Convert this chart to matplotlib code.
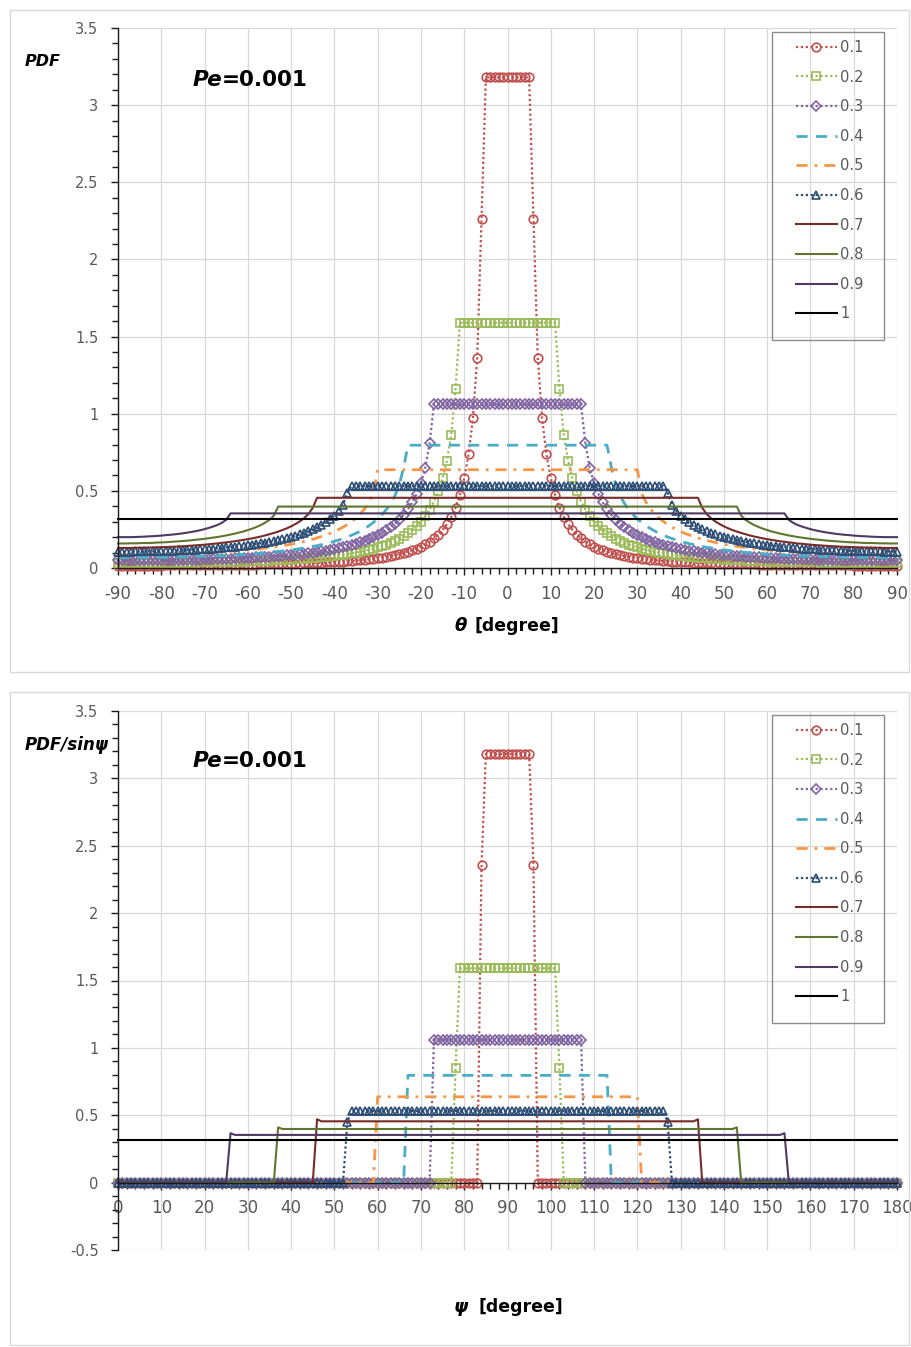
import numpy as np
import matplotlib
matplotlib.use("Agg")
import matplotlib.pyplot as plt
from matplotlib.ticker import MultipleLocator, FuncFormatter
from matplotlib.patches import Rectangle

# ---------------------------------------------------------------- data
series_labels = ["0.1", "0.2", "0.3", "0.4", "0.5", "0.6", "0.7", "0.8", "0.9", "1"]

# angle grids [degree]
theta_half = np.arange(0, 91)          # 0 .. 90, the PDF(theta) curves are symmetric
psi = np.arange(0, 181)                # 0 .. 180

# PDF(theta) for theta = 0 .. 90
pdf_01 = [3.18] * 6 + [
    2.26, 1.36, 0.969, 0.736, 0.581, 0.472, 0.392, 0.332, 0.285, 0.247,
    0.217, 0.192, 0.171, 0.154, 0.139, 0.126, 0.116, 0.106, 0.098, 0.090,
    0.084, 0.078, 0.073, 0.068, 0.064, 0.060, 0.057, 0.054, 0.051, 0.049,
    0.046, 0.044, 0.042, 0.040, 0.039, 0.037, 0.036, 0.034, 0.033, 0.032,
    0.031, 0.030, 0.029, 0.028, 0.027, 0.026, 0.026, 0.025, 0.024, 0.024,
    0.023, 0.023, 0.022, 0.022, 0.021, 0.021, 0.020, 0.020, 0.020, 0.019,
    0.019, 0.019, 0.019, 0.018, 0.018, 0.018, 0.018, 0.017, 0.017, 0.017,
    0.017, 0.017, 0.017, 0.017, 0.016, 0.016, 0.016, 0.016, 0.016, 0.016,
    0.016, 0.016, 0.016, 0.016, 0.016]
pdf_02 = [1.59] * 12 + [
    1.16, 0.862, 0.696, 0.581, 0.497, 0.430, 0.378, 0.336, 0.300, 0.271,
    0.246, 0.224, 0.206, 0.190, 0.175, 0.163, 0.152, 0.142, 0.133, 0.125,
    0.118, 0.111, 0.105, 0.100, 0.095, 0.091, 0.086, 0.083, 0.079, 0.076,
    0.073, 0.070, 0.067, 0.065, 0.063, 0.061, 0.059, 0.057, 0.055, 0.054,
    0.052, 0.051, 0.049, 0.048, 0.047, 0.046, 0.045, 0.044, 0.043, 0.042,
    0.041, 0.041, 0.040, 0.039, 0.039, 0.038, 0.038, 0.037, 0.037, 0.036,
    0.036, 0.035, 0.035, 0.035, 0.034, 0.034, 0.034, 0.033, 0.033, 0.033,
    0.033, 0.033, 0.033, 0.032, 0.032, 0.032, 0.032, 0.032, 0.032]
pdf_03 = [1.06] * 18 + [
    0.807, 0.649, 0.551, 0.480, 0.426, 0.381, 0.345, 0.314, 0.287, 0.265,
    0.245, 0.228, 0.212, 0.199, 0.186, 0.176, 0.166, 0.157, 0.149, 0.141,
    0.134, 0.128, 0.123, 0.117, 0.113, 0.108, 0.104, 0.100, 0.097, 0.093,
    0.090, 0.087, 0.085, 0.082, 0.080, 0.078, 0.076, 0.074, 0.072, 0.070,
    0.069, 0.067, 0.066, 0.064, 0.063, 0.062, 0.061, 0.060, 0.059, 0.058,
    0.057, 0.056, 0.056, 0.055, 0.054, 0.054, 0.053, 0.053, 0.052, 0.052,
    0.051, 0.051, 0.050, 0.050, 0.050, 0.050, 0.049, 0.049, 0.049, 0.049,
    0.049, 0.049, 0.049]
pdf_04 = [0.796] * 24 + [
    0.652, 0.539, 0.470, 0.419, 0.379, 0.346, 0.318, 0.295, 0.274, 0.256,
    0.240, 0.225, 0.213, 0.201, 0.191, 0.181, 0.173, 0.165, 0.158, 0.151,
    0.145, 0.140, 0.134, 0.130, 0.125, 0.121, 0.117, 0.114, 0.110, 0.107,
    0.104, 0.101, 0.099, 0.096, 0.094, 0.092, 0.090, 0.088, 0.086, 0.085,
    0.083, 0.082, 0.080, 0.079, 0.078, 0.077, 0.076, 0.075, 0.074, 0.073,
    0.072, 0.071, 0.071, 0.070, 0.070, 0.069, 0.069, 0.068, 0.068, 0.068,
    0.067, 0.067, 0.067, 0.067, 0.067, 0.067, 0.066]
pdf_05 = [0.637] * 31 + [
    0.484, 0.426, 0.384, 0.352, 0.325, 0.302, 0.282, 0.265, 0.250, 0.237,
    0.224, 0.214, 0.204, 0.195, 0.186, 0.179, 0.172, 0.166, 0.160, 0.154,
    0.149, 0.145, 0.140, 0.136, 0.132, 0.129, 0.126, 0.122, 0.120, 0.117,
    0.114, 0.112, 0.110, 0.108, 0.106, 0.104, 0.102, 0.100, 0.099, 0.098,
    0.096, 0.095, 0.094, 0.093, 0.092, 0.091, 0.090, 0.090, 0.089, 0.088,
    0.088, 0.087, 0.087, 0.086, 0.086, 0.086, 0.086, 0.085, 0.085, 0.085]
pdf_06 = [0.531] * 37 + [
    0.489, 0.411, 0.371, 0.340, 0.316, 0.296, 0.278, 0.263, 0.250, 0.238,
    0.227, 0.218, 0.209, 0.201, 0.193, 0.187, 0.180, 0.175, 0.169, 0.164,
    0.160, 0.156, 0.152, 0.148, 0.145, 0.141, 0.138, 0.136, 0.133, 0.130,
    0.128, 0.126, 0.124, 0.122, 0.121, 0.119, 0.117, 0.116, 0.115, 0.114,
    0.113, 0.112, 0.111, 0.110, 0.109, 0.108, 0.108, 0.107, 0.107, 0.107,
    0.106, 0.106, 0.106, 0.106]
pdf_07 = [0.455] * 45 + [
    0.390, 0.350, 0.323, 0.302, 0.285, 0.270, 0.257, 0.246, 0.236, 0.227,
    0.219, 0.211, 0.204, 0.198, 0.192, 0.187, 0.182, 0.178, 0.173, 0.170,
    0.166, 0.163, 0.159, 0.157, 0.154, 0.151, 0.149, 0.147, 0.145, 0.143,
    0.141, 0.140, 0.138, 0.137, 0.136, 0.135, 0.134, 0.133, 0.132, 0.132,
    0.131, 0.131, 0.130, 0.130, 0.130, 0.130]
pdf_08 = [0.398] * 54 + [
    0.339, 0.312, 0.294, 0.278, 0.266, 0.255, 0.246, 0.237, 0.230, 0.223,
    0.217, 0.211, 0.206, 0.201, 0.197, 0.193, 0.189, 0.186, 0.183, 0.180,
    0.177, 0.175, 0.173, 0.171, 0.169, 0.167, 0.166, 0.165, 0.163, 0.162,
    0.162, 0.161, 0.160, 0.160, 0.159, 0.159, 0.159]
pdf_09 = [0.354] * 65 + [
    0.312, 0.293, 0.279, 0.269, 0.260, 0.252, 0.245, 0.239, 0.234, 0.229,
    0.225, 0.221, 0.218, 0.215, 0.213, 0.210, 0.208, 0.206, 0.205, 0.203,
    0.202, 0.201, 0.200, 0.200, 0.200, 0.200]
pdf_10 = [0.318] * 91

# PDF/sin(psi) for psi = 0 .. 180
ratio_01 = [0.0] * 84 + [2.36] + [3.18] * 11 + [2.36] + [0.0] * 84
ratio_02 = [0.0] * 78 + [0.85] + [1.59] * 23 + [0.85] + [0.0] * 78
ratio_03 = [0.0] * 73 + [1.06] * 35 + [0.0] * 73
ratio_04 = [0.0] * 67 + [0.796] * 47 + [0.0] * 67
ratio_05 = [0.0] * 60 + [0.637] * 61 + [0.0] * 60
ratio_06 = [0.0] * 53 + [0.45] + [0.531] * 73 + [0.45] + [0.0] * 53
ratio_07 = [0.0] * 46 + [0.47] + [0.455] * 87 + [0.47] + [0.0] * 46
ratio_08 = [0.0] * 37 + [0.41] + [0.398] * 105 + [0.41] + [0.0] * 37
ratio_09 = [0.0] * 26 + [0.367] + [0.354] * 127 + [0.367] + [0.0] * 26
ratio_10 = [0.318] * 181

pdf_half = [pdf_01, pdf_02, pdf_03, pdf_04, pdf_05,
            pdf_06, pdf_07, pdf_08, pdf_09, pdf_10]
ratio_all = [ratio_01, ratio_02, ratio_03, ratio_04, ratio_05,
             ratio_06, ratio_07, ratio_08, ratio_09, ratio_10]


def mirror(half):
    half = np.asarray(half, dtype=float)
    return np.concatenate([half[:0:-1], half])


theta = np.concatenate([-theta_half[:0:-1], theta_half])

# ---------------------------------------------------------------- styles
styles = [
    dict(color="#C0504D", ls=(0, (1, 1.2)), lw=1.6, marker="o", ms=6.2),
    dict(color="#9BBB59", ls=(0, (1, 1.2)), lw=1.6, marker="s", ms=5.8),
    dict(color="#8064A2", ls=(0, (1, 1.2)), lw=1.6, marker="D", ms=4.6),
    dict(color="#4BACC6", ls=(0, (4, 3)), lw=2.0, marker=None, ms=0),
    dict(color="#F79646", ls=(0, (4, 2.5, 1, 2.5)), lw=2.0, marker=None, ms=0),
    dict(color="#2C4D75", ls=(0, (1, 1.2)), lw=1.6, marker="^", ms=6.0),
    dict(color="#772C2A", ls="-", lw=1.5, marker=None, ms=0),
    dict(color="#5F7530", ls="-", lw=1.5, marker=None, ms=0),
    dict(color="#4D3B62", ls="-", lw=1.5, marker=None, ms=0),
    dict(color="#000000", ls="-", lw=1.5, marker=None, ms=0),
]

W, H = 911, 1347
GRID = "#D9D9D9"
TICK_TXT = "#595959"


def fx(px):
    return px / W


def fy(py):
    return 1 - py / H


fig = plt.figure(figsize=(W / 100, H / 100), dpi=100)
fig.patch.set_facecolor("white")

# chart-area frames
fig.patches.append(Rectangle((fx(10), fy(672)), (909 - 10) / W, (672 - 10) / H,
                             transform=fig.transFigure, fill=False,
                             ec=GRID, lw=1.0))
fig.patches.append(Rectangle((fx(10), fy(1345)), (909 - 10) / W, (1345 - 692) / H,
                             transform=fig.transFigure, fill=False,
                             ec=GRID, lw=1.0))

ax1 = fig.add_axes([fx(118), fy(568), (897 - 118) / W, (568 - 28) / H])
ax2 = fig.add_axes([fx(118), fy(1250), (897 - 118) / W, (1250 - 711) / H])

fmt = FuncFormatter(lambda v, p: "%g" % round(v, 2))


def style_axes(ax, xlo, xhi, ylo, yhi):
    ax.set_xlim(xlo, xhi)
    ax.set_ylim(ylo, yhi)
    ax.xaxis.set_major_locator(MultipleLocator(10))
    ax.xaxis.set_minor_locator(MultipleLocator(2))
    ax.yaxis.set_major_locator(MultipleLocator(0.5))
    ax.yaxis.set_minor_locator(MultipleLocator(0.1))
    ax.xaxis.set_major_formatter(fmt)
    ax.yaxis.set_major_formatter(fmt)
    ax.grid(which="major", color=GRID, lw=0.9)
    ax.set_axisbelow(True)
    for s in ("top", "right"):
        ax.spines[s].set_visible(False)
    for s in ("left", "bottom"):
        ax.spines[s].set_color("#1a1a1a")
        ax.spines[s].set_linewidth(1.0)
    ax.tick_params(which="both", direction="out", color="#1a1a1a", width=1.0)
    ax.tick_params(which="major", length=5)
    ax.tick_params(which="minor", length=4)
    ax.tick_params(axis="x", labelsize=12, labelcolor=TICK_TXT, pad=7)
    ax.tick_params(axis="y", labelsize=10.5, labelcolor=TICK_TXT, pad=9)


style_axes(ax1, -90, 90, 0, 3.5)
style_axes(ax2, 0, 180, -0.5, 3.5)
ax2.spines["bottom"].set_position(("data", 0))

handles1 = []
for vals, st in zip(pdf_half, styles):
    ln, = ax1.plot(theta, mirror(vals), color=st["color"], ls=st["ls"],
                   lw=st["lw"], marker=st["marker"], ms=st["ms"],
                   mfc="none", mec=st["color"], mew=1.2, clip_on=False)
    handles1.append(ln)

handles2 = []
for vals, st in zip(ratio_all, styles):
    ln, = ax2.plot(psi, vals, color=st["color"], ls=st["ls"],
                   lw=st["lw"], marker=st["marker"], ms=st["ms"],
                   mfc="none", mec=st["color"], mew=1.2, clip_on=False)
    handles2.append(ln)


def add_legend(ax, handles, top_px):
    leg = ax.legend(handles, series_labels, loc="upper left",
                    bbox_to_anchor=(fx(796), fy(top_px)),
                    bbox_transform=fig.transFigure, frameon=False,
                    fontsize=10.5, handlelength=2.8, handletextpad=0.25,
                    labelspacing=1.0, borderpad=0, borderaxespad=0,
                    numpoints=1)
    for t in leg.get_texts():
        t.set_color(TICK_TXT)
    return leg


add_legend(ax1, handles1, 40)
add_legend(ax2, handles2, 723)
fig.patches.append(Rectangle((fx(772), fy(340)), 112 / W, (340 - 32) / H,
                             transform=fig.transFigure, fill=False,
                             ec="#8C8C8C", lw=1.0))
fig.patches.append(Rectangle((fx(772), fy(1023)), 112 / W, (1023 - 715) / H,
                             transform=fig.transFigure, fill=False,
                             ec="#8C8C8C", lw=1.0))

# titles and axis labels
fig.text(fx(25), fy(66.5), "PDF", fontsize=11.5, fontweight="bold",
         fontstyle="italic", va="baseline", ha="left")
fig.text(fx(25), fy(750), "PDF/sin\u03c8", fontsize=12, fontweight="bold",
         fontstyle="italic", va="baseline", ha="left")

for base in (85.5, 767):
    fig.text(fx(222), fy(base), "Pe", fontsize=15.5, fontweight="bold",
             fontstyle="italic", va="baseline", ha="right")
    fig.text(fx(222), fy(base), "=0.001", fontsize=15.5, fontweight="bold",
             va="baseline", ha="left")

fig.text(fx(467), fy(631), "\u03b8", fontsize=13, fontweight="bold",
         fontstyle="italic", va="baseline", ha="right")
fig.text(fx(475), fy(631), "[degree]", fontsize=12.5, fontweight="bold",
         va="baseline", ha="left")
fig.text(fx(468), fy(1312), "\u03c8", fontsize=13, fontweight="bold",
         fontstyle="italic", va="baseline", ha="right")
fig.text(fx(478), fy(1312), "[degree]", fontsize=12.5, fontweight="bold",
         va="baseline", ha="left")

fig.savefig("out.png", dpi=100)
